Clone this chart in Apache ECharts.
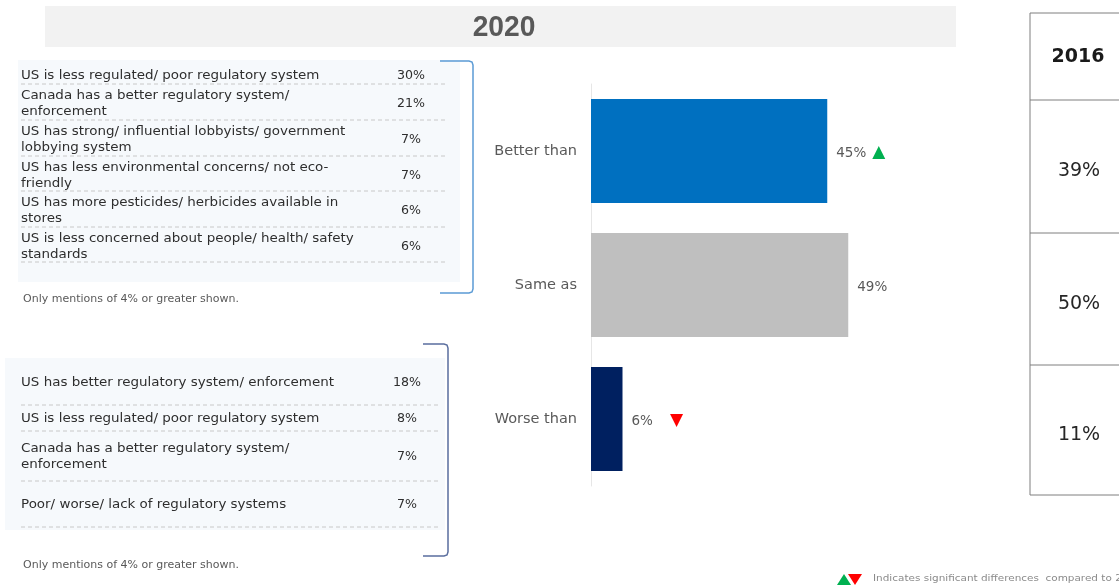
<!DOCTYPE html>
<html>
<head>
<meta charset="utf-8">
<script src="https://cdn.jsdelivr.net/npm/echarts@6/dist/echarts.min.js"></script>
<style>
  html, body { margin: 0; padding: 0; background: #ffffff; }
  #main { width: 1119px; height: 588px; }
</style>
</head>
<body>
<div id="main"></div>
<script>
// ---- data ----
const yearNow = '2020';
const yearPrev = '2016';
const categories = ['Better than', 'Same as', 'Worse than'];
const values2020 = [45, 49, 6];
const values2016 = [39, 50, 11];
const significance = ['up', null, 'down'];

const reasonsBetter = [
  'US is less regulated/ poor regulatory system',
  'Canada has a better regulatory system/\nenforcement',
  'US has strong/ influential lobbyists/ government\nlobbying system',
  'US has less environmental concerns/ not eco-\nfriendly',
  'US has more pesticides/ herbicides available in\nstores',
  'US is less concerned about people/ health/ safety\nstandards'
];
const pctBetter = [30, 21, 7, 7, 6, 6];

const reasonsWorse = [
  'US has better regulatory system/ enforcement',
  'US is less regulated/ poor regulatory system',
  'Canada has a better regulatory system/\nenforcement',
  'Poor/ worse/ lack of regulatory systems'
];
const pctWorse = [18, 8, 7, 7];

const footnote = 'Only mentions of 4% or greater shown.';
const legendNote = 'Indicates significant differences  compared to ' + yearPrev;

// ---- styling ----
const FONT = 'DejaVu Sans';
const barColors = ['#0070c0', '#bfbfbf', '#002060'];
const textDark = '#2e2e2e';
const textMid = '#595959';

const chart = echarts.init(document.getElementById('main'), null, { renderer: 'canvas' });

// Reason table: background, dashed row separators, wrapped text and percentages
function reasonTable(cfg, labels, pcts) {
  const els = [];
  els.push({
    type: 'rect', silent: true, z: 0,
    shape: { x: cfg.bg[0], y: cfg.bg[1], width: cfg.bg[2], height: cfg.bg[3] },
    style: { fill: '#f6f9fc' }
  });
  labels.forEach((lab, i) => {
    const top = cfg.rows[i], bottom = cfg.rows[i + 1];
    const mid = (top + bottom) / 2 + cfg.shift;
    els.push({
      type: 'text', z: 2, x: cfg.textX, y: mid, scaleX: 1.12,
      style: {
        text: lab, font: '12px "' + FONT + '"', fill: textDark,
        verticalAlign: 'middle', align: 'left', lineHeight: 16
      }
    });
    els.push({
      type: 'text', z: 2, x: cfg.valueX, y: mid, scaleX: 1.05,
      style: {
        text: pcts[i] + '%', font: '12px "' + FONT + '"', fill: textDark,
        verticalAlign: 'middle', align: 'center'
      }
    });
    els.push({
      type: 'line', silent: true, z: 1,
      shape: { x1: cfg.textX, y1: bottom, x2: cfg.lineEnd, y2: bottom },
      style: { stroke: '#c8c8c8', lineWidth: 1, lineDash: [4, 3] }
    });
  });
  els.push({
    type: 'text', z: 2, x: cfg.textX + 2, y: cfg.noteY, scaleX: 1.1,
    style: { text: footnote, font: '10px "' + FONT + '"', fill: textMid, verticalAlign: 'middle' }
  });
  return els;
}

// Square bracket with softly rounded corners
function bracket(x0, x1, y0, y1, color) {
  const r = 4;
  return {
    type: 'polyline', silent: true, z: 3,
    shape: {
      points: [
        [x0, y0], [x1 - r, y0], [x1 - 1, y0 + 1], [x1, y0 + r],
        [x1, y1 - r], [x1 - 1, y1 - 1], [x1 - r, y1], [x0, y1]
      ]
    },
    style: { fill: null, stroke: color, lineWidth: 1.5 }
  };
}

const graphics = [];

// title band
graphics.push({
  type: 'rect', silent: true, z: 0,
  shape: { x: 45, y: 6, width: 911, height: 41 },
  style: { fill: '#f2f2f2' }
});
graphics.push({
  type: 'text', z: 2, x: 504, y: 28, scaleX: 0.94,
  style: {
    text: yearNow, font: 'bold 30px "Liberation Sans"', fill: textMid,
    align: 'center', verticalAlign: 'middle'
  }
});

graphics.push(...reasonTable({
  bg: [18, 60, 442, 222], rows: [63, 84, 120, 156, 191, 227, 262], shift: 2,
  textX: 21, valueX: 411, lineEnd: 447, noteY: 299
}, reasonsBetter, pctBetter));
graphics.push(bracket(440, 473, 61, 293, '#5b9bd5'));

graphics.push(...reasonTable({
  bg: [5, 358, 440, 172], rows: [358, 405, 431, 481, 527], shift: 1,
  textX: 21, valueX: 407, lineEnd: 441, noteY: 565
}, reasonsWorse, pctWorse));
graphics.push(bracket(423, 448, 344, 556, '#5a6e9e'));

// 2016 comparison column
const colX = 1030, colRight = 1125;
const colRows = [13, 100, 233, 365, 495];
graphics.push({
  type: 'line', silent: true, z: 2,
  shape: { x1: colX, y1: colRows[0], x2: colX, y2: colRows[colRows.length - 1] },
  style: { stroke: '#7f7f7f', lineWidth: 1 }
});
colRows.forEach(y => {
  graphics.push({
    type: 'line', silent: true, z: 2,
    shape: { x1: colX, y1: y, x2: colRight, y2: y },
    style: { stroke: '#7f7f7f', lineWidth: 1 }
  });
});
graphics.push({
  type: 'text', z: 2, x: 1078, y: 57,
  style: { text: yearPrev, font: 'bold 19px "' + FONT + '"', fill: '#1a1a1a', align: 'center', verticalAlign: 'middle' }
});
values2016.forEach((v, i) => {
  graphics.push({
    type: 'text', z: 2, x: 1079, y: (colRows[i + 1] + colRows[i + 2]) / 2 + 5,
    style: { text: v + '%', font: '19px "' + FONT + '"', fill: '#262626', align: 'center', verticalAlign: 'middle' }
  });
});

// significance key
graphics.push({
  type: 'polygon', silent: true, z: 2,
  shape: { points: [[837, 585], [844, 574], [851, 585]] },
  style: { fill: '#00b050' }
});
graphics.push({
  type: 'polygon', silent: true, z: 2,
  shape: { points: [[848, 574], [862, 574], [855, 585]] },
  style: { fill: '#ff0000' }
});
graphics.push({
  type: 'text', z: 2, x: 873, y: 579, scaleX: 1.1,
  style: { text: legendNote, font: '9.5px "' + FONT + '"', fill: '#8a8a8a', verticalAlign: 'middle' }
});

chart.setOption({
  animation: false,
  backgroundColor: '#ffffff',
  grid: { left: 591, top: 84, width: 315, height: 402, containLabel: false },
  xAxis: {
    type: 'value', min: 0, max: 60, show: false
  },
  yAxis: {
    type: 'category', data: categories, inverse: true,
    axisLine: { show: true, lineStyle: { color: '#e6e6e6', width: 1 } },
    axisTick: { show: false },
    axisLabel: { color: textMid, fontFamily: FONT, fontSize: 14.5, margin: 14 }
  },
  series: [{
    type: 'bar',
    barWidth: 104,
    data: values2020.map((v, i) => ({ value: v, itemStyle: { color: barColors[i] } })),
    label: {
      show: true, position: 'right', distance: 9, offset: [0, 2],
      fontFamily: FONT, fontSize: 13.5, color: textMid,
      formatter: p => {
        const s = significance[p.dataIndex];
        let t = '{v|' + p.value + '%}';
        if (s === 'up') t += '{up|▲}';
        if (s === 'down') t += '{down|▼}';
        return t;
      },
      rich: {
        v: { fontFamily: FONT, fontSize: 13.5, color: textMid },
        up: { fontFamily: FONT, fontSize: 17, color: '#00b050', padding: [0, 0, 0, 6] },
        down: { fontFamily: FONT, fontSize: 17, color: '#ff0000', padding: [0, 0, 0, 17] }
      }
    }
  }],
  graphic: { elements: graphics }
});
</script>
</body>
</html>
